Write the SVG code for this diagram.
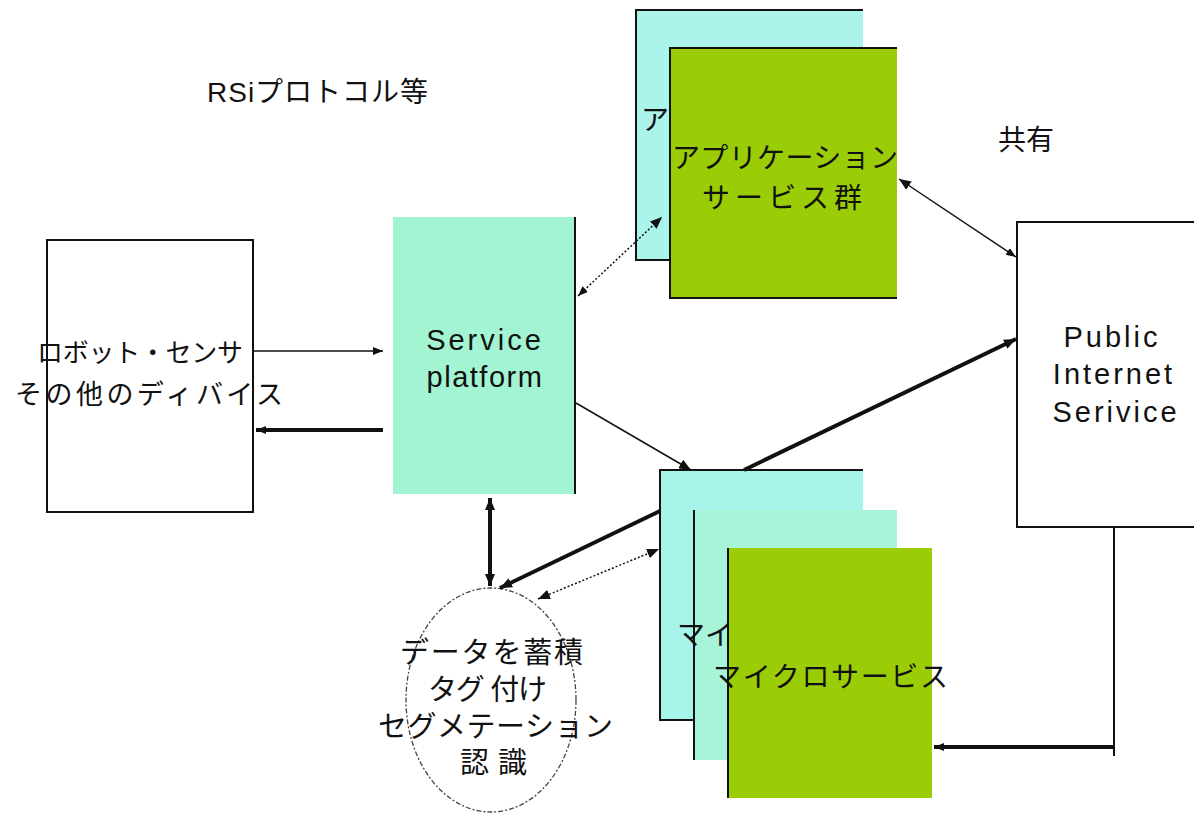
<svg xmlns="http://www.w3.org/2000/svg" width="1194" height="814" viewBox="0 0 1194 814">
<defs>
<style>
.jp{font-family:"Liberation Sans","Noto Sans CJK JP",sans-serif;fill:#111;}
.en{font-family:"Liberation Sans","Noto Sans CJK JP",sans-serif;fill:#111;}
.edge{stroke:#111;fill:none;}
.thin{stroke-width:1.5;}
.thick{stroke-width:4;}
.dot{stroke-width:1.5;stroke-dasharray:2 2;}
.bd{stroke:#111;stroke-width:2;fill:none;}
</style>
<marker id="ah" markerUnits="userSpaceOnUse" markerWidth="14" markerHeight="10" refX="12" refY="5" orient="auto-start-reverse">
<path d="M0,0 L12,5 L0,10 z" fill="#111"/>
</marker>
<marker id="ahs" markerUnits="userSpaceOnUse" markerWidth="12" markerHeight="10" refX="10" refY="4" orient="auto-start-reverse">
<path d="M0,0 L10,4 L0,8 z" fill="#111"/>
</marker>
</defs>
<rect x="0" y="0" width="1194" height="814" fill="#ffffff"/>

<g id="label-rsi">
<text class="jp" x="207" y="102" font-size="28" letter-spacing="1">RSiプロトコル等</text>
</g>
<g id="label-share">
<text class="jp" x="998" y="150" font-size="28">共有</text>
</g>

<g id="node-devices">
<rect x="47" y="240" width="206" height="272" fill="#ffffff" stroke="#111" stroke-width="2"/>
<text class="jp" x="37" y="362" font-size="26" textLength="206" lengthAdjust="spacing">ロボット・センサ</text>
<text class="jp" x="15" y="404" font-size="27" textLength="268" lengthAdjust="spacing">その他のディバイス</text>
</g>

<g id="node-platform">
<rect x="393" y="217" width="182" height="277" fill="#a3f4d2"/>
<line class="bd" x1="575" y1="217" x2="575" y2="494"/>
<text class="en" x="485" y="350" font-size="29" text-anchor="middle" letter-spacing="3">Service</text>
<text class="en" x="485" y="387" font-size="29" text-anchor="middle" letter-spacing="1.5">platform</text>
</g>

<g id="node-apps">
<rect x="636" y="10" width="227" height="250" fill="#abf4ec"/>
<path class="bd" d="M863,10 H636 V260 H670"/>
<text class="jp" x="641" y="130" font-size="28">ア</text>
<rect x="670" y="48" width="227" height="250" fill="#9acd05"/>
<path class="bd" d="M897,48 H670 V298 H897"/>
<text class="jp" x="672" y="168" font-size="28" textLength="226" lengthAdjust="spacing">アプリケーション</text>
<text class="jp" x="702" y="208" font-size="28" textLength="160" lengthAdjust="spacing">サービス群</text>
</g>

<g id="node-public">
<path d="M1194,222 H1017 V527 H1194" fill="#ffffff" stroke="#111" stroke-width="2"/>
<text class="en" x="1112" y="347" font-size="29" text-anchor="middle" letter-spacing="3">Public</text>
<text class="en" x="1114" y="384" font-size="29" text-anchor="middle" letter-spacing="3">Internet</text>
<text class="en" x="1116" y="422" font-size="29" text-anchor="middle" letter-spacing="3">Serivice</text>
</g>

<g id="node-data">
<ellipse cx="491" cy="700" rx="85" ry="112" fill="#ffffff" stroke="#444" stroke-width="1.3" stroke-dasharray="5 2 2 2"/>
<text class="jp" x="400" y="663" font-size="29" textLength="183" lengthAdjust="spacing">データを蓄積</text>
<text class="jp" x="428" y="700" font-size="29" textLength="119" lengthAdjust="spacing">タグ 付け</text>
<text class="jp" x="378" y="737" font-size="29" textLength="235" lengthAdjust="spacing">セグメテーション</text>
<text class="jp" x="460" y="773" font-size="29" textLength="67" lengthAdjust="spacing">認識</text>
</g>

<g id="node-micro">
<rect x="660" y="470" width="203" height="250" fill="#a7f4ea"/>
<path class="bd" d="M863,470 H660 V720 H694"/>
<rect x="694" y="510" width="203" height="250" fill="#a7f4d8"/>
<line class="bd" x1="694" y1="510" x2="694" y2="760"/>
<text class="jp" x="677" y="645" font-size="28">マイ</text>
<rect x="728" y="548" width="204" height="250" fill="#9acd05"/>
<line class="bd" x1="728" y1="548" x2="728" y2="798"/>
<text class="jp" x="713" y="687" font-size="28" textLength="235" lengthAdjust="spacing">マイクロサービス</text>
</g>

<g id="connectors">
<line class="edge thin" x1="254" y1="351" x2="383" y2="351" marker-end="url(#ahs)"/>
<line class="edge thick" x1="383" y1="430" x2="256" y2="430" marker-end="url(#ahs)"/>
<line class="edge dot" x1="578" y1="296" x2="662" y2="217" marker-start="url(#ahs)" marker-end="url(#ah)"/>
<line class="edge thin" x1="576" y1="403" x2="691" y2="470" marker-end="url(#ah)"/>
<line class="edge thin" x1="899" y1="179" x2="1016" y2="257" marker-start="url(#ah)" marker-end="url(#ahs)"/>
<line class="edge thick" x1="490" y1="498" x2="490" y2="586" marker-start="url(#ah)" marker-end="url(#ah)"/>
<line class="edge thick" x1="500" y1="588" x2="660" y2="511" marker-start="url(#ah)"/>
<line class="edge thick" x1="744" y1="470" x2="1016" y2="339" marker-end="url(#ah)"/>
<line class="edge dot" x1="538" y1="599" x2="659" y2="549" marker-start="url(#ah)" marker-end="url(#ah)"/>
<line class="edge" stroke-width="2" x1="1114" y1="527" x2="1114" y2="756"/>
<line class="edge thick" x1="1114" y1="747" x2="934" y2="747" marker-end="url(#ahs)"/>
</g>
</svg>
